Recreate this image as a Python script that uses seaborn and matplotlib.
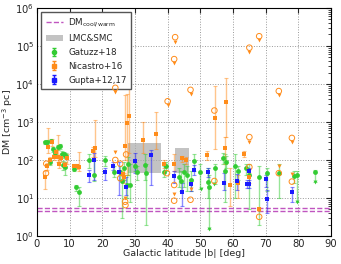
import numpy as np
import pandas as pd
import matplotlib
matplotlib.use("Agg")
import matplotlib.pyplot as plt
import seaborn as sns
from matplotlib.patches import Patch
from matplotlib.lines import Line2D

# Gatuzz+18: latitude, DM, lower, upper
gat_b = [2.5, 3.0, 4.2, 4.0, 5.0, 5.5, 6.6, 7.1, 7.6, 8.3, 8.0, 9.0, 8.6, 11.5, 12.0, 12.8,
         16.0, 17.5, 21.0, 23.5, 25.3, 26.0, 26.8, 27.5, 28.0, 28.5, 30.0, 30.5, 33.0, 33.5,
         39.0, 39.5, 43.5, 44.0, 45.0, 46.0, 47.0, 48.0, 50.0, 52.3, 52.6, 54.5, 57.0, 57.8,
         57.5, 60.5, 61.5, 64.0, 65.0, 68.0, 70.5, 74.0, 78.5, 79.5, 85.0]
gat_dm = [290, 300, 320, 88, 190, 150, 215, 230, 145, 140, 75, 130, 65, 58, 19, 14,
          100, 40, 100, 48, 48, 28, 62, 22, 80, 22, 70, 48, 75, 45,
          48, 68, 35, 28, 48, 40, 30, 93, 48, 27, 20, 60, 112, 90,
          50, 70, 50, 60, 40, 36, 45, 45, 37, 40, 48]
gat_lo = [260, 270, 290, 75, 160, 130, 180, 200, 120, 115, 55, 105, 40, 50, 15, 6,
          60, 28, 70, 35, 30, 3, 30, 10, 40, 8, 50, 30, 30, 2,
          35, 50, 20, 15, 20, 15, 15, 50, 17, 10, 1.5, 23, 80, 60,
          8, 10, 30, 40, 5, 2, 15, 10, 25, 8, 27]
gat_hi = [320, 330, 350, 100, 220, 180, 250, 260, 170, 165, 95, 155, 90, 68, 22, 19,
          140, 100, 130, 70, 70, 45, 90, 40, 120, 80, 90, 70, 140, 80,
          70, 90, 60, 50, 80, 70, 50, 140, 80, 60, 40, 80, 150, 130,
          140, 140, 70, 80, 80, 70, 60, 80, 50, 50, 55]
# Gatuzz+18 upper limits: latitude, arrow value
gat_ul_b = [50.2, 52.6, 54.3, 79.5, 85.0]
gat_ul_dm = [17, 1.5, 23, 8, 27]

# Nicastro+16 detections
nic_b = [2.6, 3.0, 3.5, 4.0, 4.5, 5.2, 6.0, 6.5, 6.9, 7.5, 8.5, 9.2, 11.5, 12.3, 13.0,
         17.2, 17.9, 26.3, 26.8, 27.0, 27.5, 28.3, 32.5, 36.5, 39.0, 42.0, 44.5, 45.7,
         52.0, 54.5, 57.5, 58.0, 59.0, 61.5, 63.5, 65.0, 68.0]
nic_dm = [35, 70, 220, 100, 290, 120, 160, 120, 80, 115, 75, 110, 70, 68, 65,
          170, 210, 42, 35, 230, 950, 1450, 340, 480, 80, 80, 110, 100,
          135, 1250, 210, 3300, 22, 25, 145, 35, 5]
nic_lo = [17, 55, 150, 80, 230, 100, 120, 90, 60, 90, 60, 80, 60, 58, 50,
          120, 120, 30, 25, 100, 40, 150, 150, 200, 60, 50, 90, 80,
          100, 200, 80, 400, 6, 10, 120, 25, 4.5]
nic_hi = [50, 85, 700, 120, 350, 140, 200, 460, 100, 140, 90, 140, 80, 78, 160,
          220, 1100, 55, 45, 5000, 5500, 9000, 1000, 1800, 100, 140, 130, 120,
          170, 9000, 400, 14000, 60, 40, 170, 45, 5.5]
# Nicastro+16 alternative estimates (open circles) and upper limits (arrows)
nic_oc_b = [24.0, 40.0, 42.0, 42.3, 47.0, 54.3, 65.0, 65.0, 68.0, 74.0, 78.0, 2.8, 2.9,
            24.0, 25.5, 25.5, 27.3, 27.0, 27.1, 39.8, 42.0, 42.0, 47.0, 54.3, 65.0, 68.0,
            74.0, 78.0]
nic_oc_dm = [7900, 3500, 45000, 170000, 7000, 2000, 90000, 400, 180000, 6500, 380, 45, 80,
             100, 80, 33, 140, 8, 6.5, 45, 22, 8.5, 9, 28, 65, 3.2, 45, 27]
nic_ul_b = [24.0, 40.0, 42.0, 42.3, 47.0, 65.0, 65.0, 68.0, 74.0, 78.0, 24.0, 27.0, 42.0,
            47.0, 74.0, 78.0, 65.0]
nic_ul_dm = [6000, 2800, 35000, 130000, 5500, 70000, 300, 140000, 5000, 290, 160, 10, 13,
             17, 70, 42, 50]

# Gupta+12,17
gup_b = [16.0, 17.5, 21.0, 23.3, 25.0, 27.3, 30.0, 35.0, 42.0, 44.5, 47.0, 48.0, 52.5,
         57.3, 61.3, 64.3, 65.0, 65.0, 70.2, 70.5, 78.0]
gup_dm = [40, 100, 47, 70, 48, 19, 95, 135, 37, 14, 23, 55, 48, 25, 28, 24, 24, 50, 32, 9.5, 14]
gup_lo = [27, 30, 30, 55, 12, 12, 45, 22, 25, 6, 15, 40, 35, 16, 16, 18, 18, 40, 20, 4, 8]
gup_hi = [55, 150, 60, 90, 90, 35, 150, 180, 50, 25, 32, 75, 60, 45, 42, 30, 30, 60, 40, 16, 20]

# LMC & SMC boxes: b range, DM range
mc_b0 = [28.0, 42.3]
mc_b1 = [38.0, 46.5]
mc_d0 = [45, 45]
mc_d1 = [280, 205]

dm_cool = [5.3, 4.6]

green = "#33cc33"
orange = "#ff8c1a"
blue = "#1a1aff"
purple = "#c055c0"

sns.set_style("white")
plt.rcParams["font.family"] = ["DejaVu Sans"]
plt.rcParams["font.size"] = 6.3

fig, ax = plt.subplots(figsize=(3.41, 2.64), dpi=100)
fig.subplots_adjust(left=0.108, right=0.971, top=0.970, bottom=0.106)

for b0, b1, d0, d1 in zip(mc_b0, mc_b1, mc_d0, mc_d1):
    ax.fill_between([b0, b1], d0, d1, color="#aaaaaa", alpha=0.7, lw=0, zorder=1)

for d in dm_cool:
    ax.axhline(d, color=purple, ls="--", lw=1.0, zorder=2)


def err_bars(b, dm, lo, hi, col, z):
    dm = np.array(dm, float)
    yerr = [dm - np.array(lo, float), np.array(hi, float) - dm]
    ax.errorbar(b, dm, yerr=yerr, fmt="none", ecolor=col, alpha=0.5,
                elinewidth=1.0, capsize=1.5, capthick=0.8, zorder=z)


err_bars(gat_b, gat_dm, gat_lo, gat_hi, green, 3)
err_bars(nic_b, nic_dm, nic_lo, nic_hi, orange, 4)
err_bars(gup_b, gup_dm, gup_lo, gup_hi, blue, 5)

gat = pd.DataFrame({"b": gat_b, "dm": gat_dm})
nic = pd.DataFrame({"b": nic_b, "dm": nic_dm})
gup = pd.DataFrame({"b": gup_b, "dm": gup_dm})
nic_oc = pd.DataFrame({"b": nic_oc_b, "dm": nic_oc_dm})
nic_ul = pd.DataFrame({"b": nic_ul_b, "dm": nic_ul_dm})
gat_ul = pd.DataFrame({"b": gat_ul_b, "dm": gat_ul_dm})

sns.scatterplot(data=gat, x="b", y="dm", color=green, marker="o", s=12, linewidth=0, ax=ax, zorder=6)
sns.scatterplot(data=gat_ul, x="b", y="dm", color=green, marker="v", s=8, linewidth=0, ax=ax, zorder=6)
sns.scatterplot(data=nic, x="b", y="dm", color=orange, marker="s", s=12, linewidth=0, ax=ax, zorder=7)
sns.scatterplot(data=nic_oc, x="b", y="dm", facecolor="none", edgecolor=orange, marker="o",
                s=16, linewidth=0.7, ax=ax, zorder=7)
sns.scatterplot(data=nic_ul, x="b", y="dm", color=orange, marker="v", s=8, linewidth=0, ax=ax, zorder=7)
sns.scatterplot(data=gup, x="b", y="dm", color=blue, marker="s", s=12, linewidth=0, ax=ax, zorder=8)

ax.set_yscale("log")
ax.set_xlim(0, 90)
ax.set_ylim(1, 1e6)
ax.set_xticks(range(0, 91, 10))
ax.set_xlabel("Galactic latitude |b| [deg]", fontsize=6.8, labelpad=0)
ax.set_ylabel(r"DM [cm$^{-3}$ pc]", fontsize=6.8, labelpad=0)
ax.grid(True, which="major", color="#999999", ls=":", lw=0.7)
ax.tick_params(which="both", direction="in", top=True, right=True, labelsize=7.2, pad=1.8)
ax.tick_params(which="major", length=3.5)
ax.tick_params(which="minor", length=2)
for sp in ax.spines.values():
    sp.set_color("black")
    sp.set_linewidth(0.8)

# legend proxies
h_dm = Line2D([], [], color=purple, ls="--", lw=1.0)
h_mc = Patch(facecolor="#aaaaaa", alpha=0.7, edgecolor="none")
h_g = ax.errorbar([np.nan], [np.nan], yerr=[[1], [1]], fmt="o", ms=3, color=green,
                  ecolor=green, capsize=1.5, elinewidth=1.0)
h_n = ax.errorbar([np.nan], [np.nan], yerr=[[1], [1]], fmt="s", ms=3, color=orange,
                  ecolor=orange, capsize=1.5, elinewidth=1.0)
h_u = ax.errorbar([np.nan], [np.nan], yerr=[[1], [1]], fmt="s", ms=3, color=blue,
                  ecolor=blue, capsize=1.5, elinewidth=1.0)
leg = ax.legend([h_dm, h_mc, h_g, h_n, h_u],
                [r"DM$_{\rm cool/warm}$", "LMC&SMC", "Gatuzz+18", "Nicastro+16", "Gupta+12,17"],
                loc="upper left", fontsize=6.3, frameon=True, fancybox=False, framealpha=1,
                borderpad=0.5, labelspacing=0.55, handlelength=2.0, handletextpad=0.6,
                borderaxespad=0.5)
leg.get_frame().set_edgecolor("#555555")
leg.get_frame().set_linewidth(1.0)

fig.savefig("out.png", dpi=100)
